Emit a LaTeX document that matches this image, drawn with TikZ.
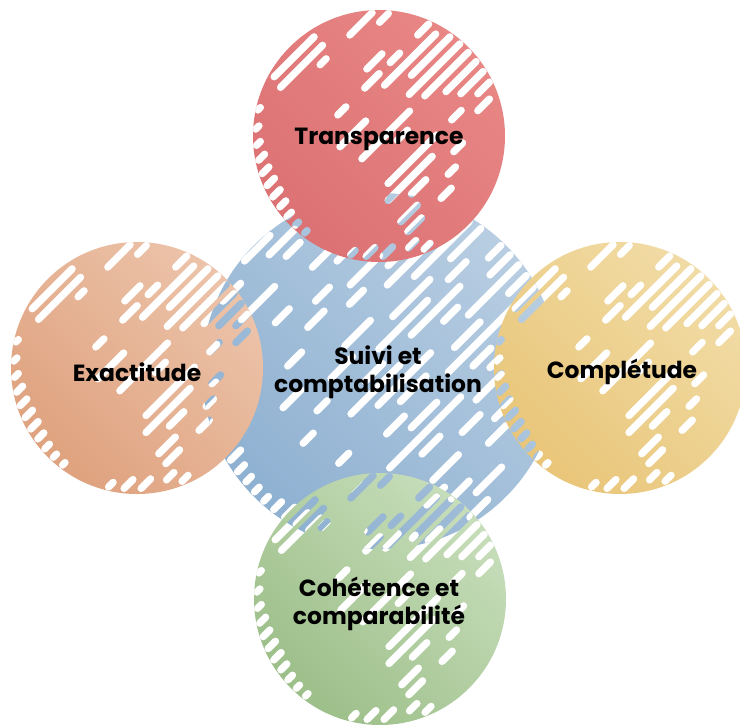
\documentclass[tikz,border=0pt]{standalone}
\usepackage{fontspec}
\setmainfont{Poppins}
\definecolor{redD}{RGB}{219,112,114}
\definecolor{redL}{RGB}{233,136,134}
\definecolor{orD}{RGB}{222,160,124}
\definecolor{orL}{RGB}{237,197,172}
\definecolor{yeD}{RGB}{232,196,118}
\definecolor{yeL}{RGB}{242,221,168}
\definecolor{grD}{RGB}{154,189,134}
\definecolor{grL}{RGB}{201,223,189}
\definecolor{blD}{RGB}{140,175,208}
\definecolor{blL}{RGB}{186,207,227}
\newcommand\outerpattern{116/-36/28, 104/-71/-60, 104/-39/28,
 92/-86/-74, 92/5/21, 92/47/86, 80/-97/-84, 80/77/97, 68/-106/-90,
 56/-113/-96, 56/35/64, 44/-118/-100, 44/-18/1, 44/20/48, 44/56/77, 44/95/118,
 32/-122/-104, 32/36/116, 20/-124/-108, 20/-39/5, 20/62/124,
 8/-126/-112, 8/47/126, -4/-126/-114, -4/-32/43, -4/57/126,
 -16/-125/-114, -16/6/28, -16/75/125, -28/84/123,
 -40/-31/45, -40/59/80, -40/96/120, -52/-43/27, -52/84/108,
 -64/-108/-94, -64/-22/6, -64/38/58, -76/-98/-78, -76/-49/-18, -76/18/36,
 -88/-86/-65, -88/-51/-24, -88/-4/18, -100/-62/-44, -112/-52/-36}
\newcommand\centerpattern{159/-20/20, 147/-60/-30, 147/0/40, 135/10/35, 135/50/91,
 123/-107/-85, 123/-60/-10, 123/60/107, 111/-119/-100, 111/20/60, 111/80/119,
 99/-129/-110, 99/-40/-15, 99/40/129, 87/-138/-118, 87/0/25, 87/60/138,
 75/-145/-120, 75/-22/6, 75/33/78, 75/95/145,
 63/-150/-130, 63/-60/-35, 63/20/45, 63/70/150,
 51/-155/-140, 51/57/120, 51/135/155,
 39/-158/-138, 39/-90/-60, 39/-10/30, 39/80/158,
 27/-161/-145, 27/-40/-5, 27/40/95, 27/115/161,
 15/-162/-148, 15/-70/-50, 15/10/80, 15/100/130,
 3/-163/-150, 3/-100/-80, 3/-20/10, 3/40/110, 3/140/163,
 -9/-163/-150, -9/-50/20, -9/70/95, -9/130/163,
 -21/-162/-145, -21/-27/48, -21/90/162,
 -33/-160/-140, -33/-90/-70, -33/-10/30, -33/60/100, -33/130/160,
 -45/-157/-135, -45/-40/-10, -45/40/157,
 -57/-153/-130, -57/-100/-80, -57/-20/20, -57/60/90,
 -69/-148/-125, -69/-60/39, -69/70/100,
 -81/-141/-115, -81/-30/0, -81/40/80,
 -93/-134/-110, -93/-80/-50, -93/10/40, -93/80/134,
 -105/-125/-100, -105/-40/0, -105/40/70,
 -117/-113/-90, -117/-60/-30, -117/20/50,
 -129/-100/-80, -129/-40/-10, -141/-82/-60, -141/-20/20, -153/-40/-10}
% #1 x, #2 y (image, down), #3 radius (pattern units), #4 dark, #5 light, #6 pattern, #7 scale
\newcommand\drawpetal[7]{%
 \begin{scope}[shift={(#1,-#2)}, rotate=45, scale=#7]
  \clip (0,0) circle (#3);
  \shade[even odd rule, rounded corners=3.7pt, bottom color=#4, top color=#5, shading angle=-45]
   (0,0) circle (#3)
   \foreach \v/\a/\b in #6 { (\a,\v-3.75/#7) rectangle (\b,\v+3.75/#7) };
 \end{scope}}
\tikzset{lbl/.style={font=\fontsize{23.4}{28}\selectfont\bfseries, text=black, align=center, inner sep=0pt}}
\begin{document}
\begin{tikzpicture}[x=1pt,y=1pt]
\fill[white] (0,0) rectangle (740,-724);
\useasboundingbox (0,0) rectangle (740,-724);
\drawpetal{380}{371}{163}{blD}{blL}{\centerpattern}{1.092}
\drawpetal{379}{136}{126}{redD}{redL}{\outerpattern}{1}
\drawpetal{137}{368}{126}{orD}{orL}{\outerpattern}{1}
\drawpetal{620}{368}{126}{yeD}{yeL}{\outerpattern}{1}
\drawpetal{380}{599}{126}{grD}{grL}{\outerpattern}{1}
\node[lbl] (suivi) at (378,-372) {Suivi et\\comptabilisation};
\node[lbl] (transp) at (379,-139) {Transparence};
\node[lbl] (exact) at (137,-372) {Exactitude};
\node[lbl] (compl) at (622,-372) {Complétude};
\node[lbl] (coh) at (379,-604) {Cohétence et\\comparabilité};
\end{tikzpicture}
\end{document}
